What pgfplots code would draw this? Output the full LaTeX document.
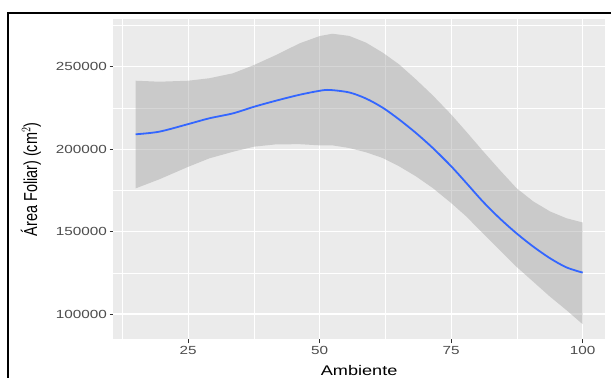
\documentclass[border=0pt]{standalone}
\usepackage{fontspec}
\setmainfont{Liberation Sans}[FakeStretch=1.3]
\newfontfamily\plainfont{Liberation Sans}
\usepackage{pgfplots}
\pgfplotsset{compat=1.18}
\definecolor{ggbg}{HTML}{EBEBEB}
\definecolor{ggblue}{HTML}{3366FF}
\definecolor{ggrib}{HTML}{999999}
\definecolor{gray20}{HTML}{333333}
\definecolor{gray30}{HTML}{4D4D4D}
\begin{document}
\begin{tikzpicture}
\useasboundingbox (0bp,0bp) rectangle (611bp,378bp);
\fill[white] (0bp,0bp) rectangle (611bp,378bp);
\begin{axis}[
  at={(113.3bp,38.7bp)}, anchor=south west,
  scale only axis, width=491.7bp, height=319.8bp,
  xmin=10.75, xmax=104.25, ymin=84650, ymax=278640,
  axis background/.style={fill=ggbg},
  axis line style={draw=none},
  xtick={25,50,75,100},
  ytick={100000,150000,200000,250000},
  minor xtick={12.5,37.5,62.5,87.5},
  minor ytick={125000,175000,225000,275000},
  grid=both,
  major grid style={white, line width=1.1bp},
  minor grid style={white, line width=0.55bp},
  tick align=outside,
  major tick length=3.7bp, minor tick length=0pt,
  tick style={gray20, line width=0.8bp},
  xtick pos=bottom, ytick pos=left,
  scaled y ticks=false,
  /pgf/number format/assume math mode=true,
  yticklabel={\pgfmathprintnumber[fixed,1000 sep={}]{\tick}},
  xticklabel={\pgfmathprintnumber{\tick}},
  ticklabel style={font=\fontsize{11.8}{13}\selectfont, text=gray30, inner sep=0pt},
  yticklabel style={anchor=east, xshift=-2.5bp},
  xticklabel style={anchor=base, yshift=-11.7bp},
  xlabel={Ambiente},
  xlabel style={font=\fontsize{14}{16}\selectfont, at={(axis description cs:0.5,-0.1132)}, anchor=base, inner sep=0pt},
  ylabel={\scalebox{1}[1.3]{\plainfont\fontsize{14.5}{16}\selectfont Área Foliar) (cm$^{2}$)}},
  ylabel style={at={(axis description cs:-0.1674,0.5)}, anchor=center, inner sep=0pt},
]
\addplot[fill=ggrib, fill opacity=0.4, draw=none] coordinates {
(15,241500) (19.5,240900) (25,241500) (29,243000) (33.5,246000) (37.5,251000) (41.7,257100) (46.2,264200) (50,268600) (52.4,270000) (55.6,268700) (58.8,264600) (62,258500) (65.1,251400) (68.3,242300) (71.5,232600) (75,221000) (77.9,210500) (81,199000) (84.2,187500) (87.4,176400) (90.6,168300) (93.8,162200) (96.9,158100) (100,155500)
(100,93800) (96.9,102400) (93.8,110500) (90.6,119600) (87.4,128700) (84.2,138900) (81,149000) (77.9,159100) (75,167300) (71.5,176400) (68.3,183500) (65.1,189600) (62,194600) (58.8,198100) (55.6,200700) (52.4,202300) (50,202300) (46.2,203000) (41.7,202900) (37.5,201500) (33.5,198400) (29,194400) (25,189300) (19.5,181700) (15,176200)};
\addplot[ggblue, line width=1.8bp, smooth] coordinates {
(15,209000) (19.5,210600) (25,215200) (29,218700) (33.5,221700) (37.5,225700) (41.7,229400) (46.2,233000) (50,235400) (51.9,235900) (55.6,234400) (58.8,230700) (62,225100) (65.1,218000) (68.3,209800) (71.5,200700) (75,189600) (77.9,179400) (81,168300) (84.2,158100) (87.4,149000) (90.6,140900) (93.8,133800) (96.9,128300) (100,125100)};
\end{axis}
\draw[black, line width=2bp] (8bp,-5bp) -- (8bp,365bp) -- (620bp,365bp);
\end{tikzpicture}
\end{document}
